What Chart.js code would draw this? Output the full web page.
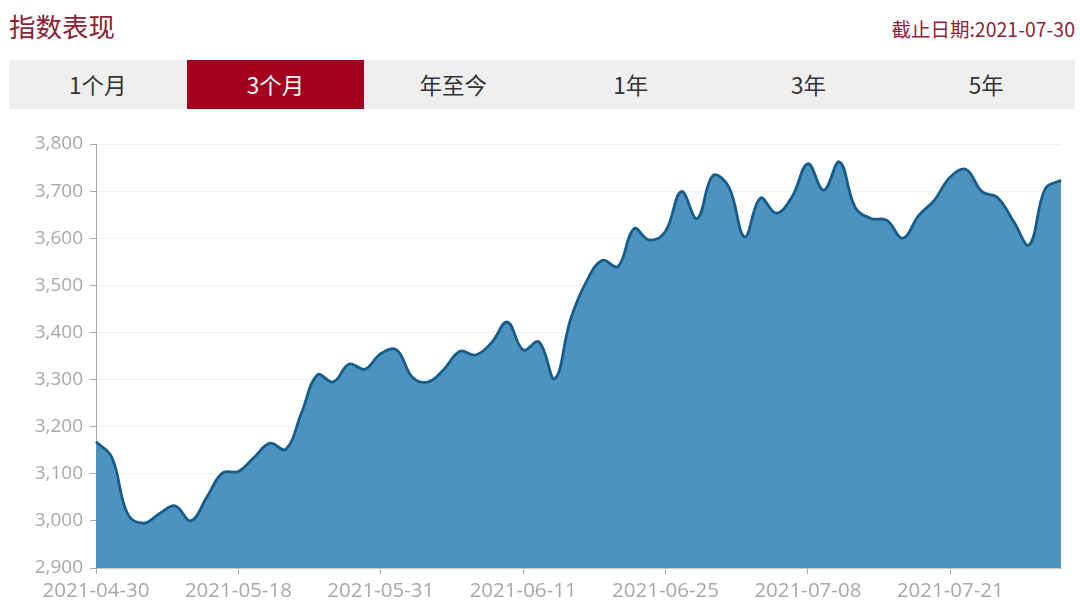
<!DOCTYPE html>
<html>
<head>
<meta charset="utf-8">
<script src="https://cdn.jsdelivr.net/npm/chart.js@4"></script>
<style>
  html, body { margin: 0; padding: 0; background: #fff; width: 1080px; height: 616px; overflow: hidden; }
  body { position: relative; font-family: "Noto Sans CJK SC", "Noto Sans", sans-serif; }
  #title { position: absolute; left: 9px; top: 8px; font-size: 26.5px; color: #8e1f35; line-height: 36px; }
  #date { position: absolute; right: 5px; top: 14px; font-size: 19.5px; color: #8e1f35; line-height: 30px; }
  #tabs { position: absolute; left: 9px; top: 60px; width: 1066px; height: 49px; background: #efefef; display: flex; }
  .tab { flex: 1; text-align: center; line-height: 49px; font-size: 22.5px; color: #333; }
  .tab.active { background: #a3001f; color: #fff; }
  #wrap { position: absolute; left: 0; top: 120px; width: 1080px; height: 496px; }
</style>
</head>
<body>
<div id="title">指数表现</div>
<div id="date">截止日期:2021-07-30</div>
<div id="tabs"></div>
<div id="wrap"><canvas id="c"></canvas></div>
<script>
const tabLabels = ["1个月", "3个月", "年至今", "1年", "3年", "5年"];
const activeTab = 1;

const dates = [
  "2021-04-30","2021-05-06","2021-05-07","2021-05-10","2021-05-11","2021-05-12","2021-05-13","2021-05-14","2021-05-17","2021-05-18",
  "2021-05-19","2021-05-20","2021-05-21","2021-05-24","2021-05-25","2021-05-26","2021-05-27","2021-05-28","2021-05-31","2021-06-01",
  "2021-06-02","2021-06-03","2021-06-04","2021-06-07","2021-06-08","2021-06-09","2021-06-10","2021-06-11","2021-06-15","2021-06-16",
  "2021-06-17","2021-06-18","2021-06-21","2021-06-22","2021-06-23","2021-06-24","2021-06-25","2021-06-28","2021-06-29","2021-06-30",
  "2021-07-01","2021-07-02","2021-07-05","2021-07-06","2021-07-07","2021-07-08","2021-07-09","2021-07-12","2021-07-13","2021-07-14",
  "2021-07-15","2021-07-16","2021-07-19","2021-07-20","2021-07-21","2021-07-22","2021-07-23","2021-07-26","2021-07-27","2021-07-28",
  "2021-07-29","2021-07-30"
];

const indexValues = [
  3168, 3135, 3015, 2995, 3015, 3032, 3000, 3050, 3102, 3105,
  3135, 3165, 3152, 3230, 3310, 3295, 3333, 3322, 3355, 3363,
  3305, 3295, 3322, 3360, 3352, 3378, 3422, 3363, 3380, 3302,
  3428, 3508, 3553, 3540, 3620, 3596, 3615, 3699, 3642, 3733,
  3709, 3603, 3685, 3653, 3688, 3758, 3702, 3762, 3665, 3642,
  3638, 3600, 3648, 3681, 3730, 3746, 3699, 3686, 3636, 3586,
  3705, 3723
];

const yMin = 2900, yMax = 3800, yStep = 100;
const labelEvery = 9;

const tabs = document.getElementById('tabs');
tabLabels.forEach((t, i) => {
  const d = document.createElement('div');
  d.className = 'tab' + (i === activeTab ? ' active' : '');
  d.textContent = t;
  tabs.appendChild(d);
});

new Chart(document.getElementById('c'), {
  type: 'line',
  data: {
    labels: dates,
    datasets: [{
      data: indexValues,
      borderColor: '#175d8c',
      borderWidth: 2.8,
      backgroundColor: '#4d93bf',
      fill: 'start',
      tension: 0.4,
      pointRadius: 0
    }]
  },
  options: {
    responsive: true,
    maintainAspectRatio: false,
    animation: false,
    layout: { padding: { top: 24, right: 19, bottom: 8, left: 0 } },
    plugins: { legend: { display: false }, tooltip: { enabled: false } },
    scales: {
      x: {
        offset: false,
        afterBuildTicks: (s) => { s.ticks = s.ticks.filter(t => t.value % labelEvery === 0); },
        afterFit: (s) => { s.height = 40; },
        grid: { drawOnChartArea: false, drawTicks: true, tickLength: 6, tickColor: '#aaa' },
        border: { color: '#ccc' },
        ticks: { autoSkip: false, maxRotation: 0, color: '#a8a8a8', padding: 5,
                 font: { family: 'Open Sans', size: 20.5 } }
      },
      y: {
        min: yMin, max: yMax,
        afterFit: (s) => { s.width = 96; },
        grid: { color: '#f0f0f0', tickLength: 6, tickColor: '#aaa' },
        border: { color: '#aaa' },
        ticks: { stepSize: yStep, color: '#a8a8a8', padding: 7,
                 font: { family: 'Open Sans', size: 19 },
                 callback: (v) => v.toLocaleString('en-US') }
      }
    }
  }
});
</script>
</body>
</html>
